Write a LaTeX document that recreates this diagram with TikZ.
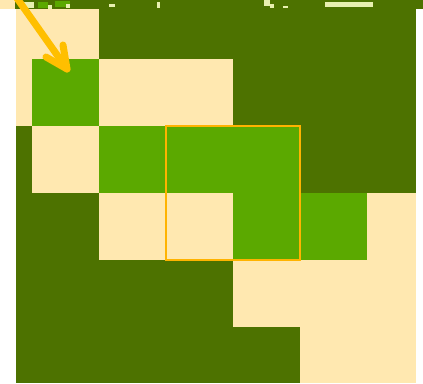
\documentclass[tikz,border=0pt]{standalone}
\definecolor{darkg}{HTML}{4D7200}
\definecolor{brightg}{HTML}{5BA900}
\definecolor{cream}{HTML}{FFE8B0}
\definecolor{framec}{HTML}{FFB300}
\definecolor{arrowc}{HTML}{FFBF00}
\definecolor{speck}{HTML}{E8F0B0}
\tikzset{
  cellD/.style={fill=darkg},
  cellB/.style={fill=brightg},
  cellC/.style={fill=cream},
  specks/.style={fill=speck},
  frame/.style={draw=framec, line width=2.5pt},
  pointer/.style={draw=arrowc, line width=7pt, line cap=round, line join=round}
}
\begin{document}
\begin{tikzpicture}[x=1pt,y=-1pt]
\useasboundingbox (0,0) rectangle (423,383);
\clip (0,0) rectangle (423,383);
% base dark area
\fill[cellD] (16,9) rectangle (416,383);
% cream cells
\fill[cellC] (16,9) rectangle (99,59);
\fill[cellC] (16,59) rectangle (32,126);
\fill[cellC] (99,59) rectangle (233,126);
\fill[cellC] (32,126) rectangle (99,193);
\fill[cellC] (99,193) rectangle (233,260);
\fill[cellC] (367,193) rectangle (416,260);
\fill[cellC] (233,260) rectangle (416,327);
\fill[cellC] (300,327) rectangle (416,383);
% bright green cells
\fill[cellB] (32,59) rectangle (99,126);
\fill[cellB] (99,126) rectangle (300,193);
\fill[cellB] (233,193) rectangle (367,260);
% top strip
\fill[cellD] (0,0) rectangle (423,9);
\fill[cellC] (0,0) rectangle (15,9);
\fill[specks] (24,2) rectangle (34,8);
\fill[brightg] (38,2) rectangle (48,8);
\fill[specks] (48,5) rectangle (52,9);
\fill[brightg] (55,1) rectangle (70,7);
\fill[specks] (66,4) rectangle (70,8);
\fill[specks] (109,4) rectangle (115,7);
\fill[specks] (157,2) rectangle (160,8);
\fill[specks] (264,0) rectangle (270,6);
\fill[specks] (270,4) rectangle (274,8);
\fill[specks] (283,6) rectangle (288,8);
\fill[specks] (325,2) rectangle (373,7);
% orange frame
\draw[frame] (166,126) rectangle (300,260);
% arrow
\coordinate (arrowstart) at (14,-6);
\coordinate (arrowtip) at (67,69);
\coordinate (barbL) at (46,57);
\coordinate (barbR) at (63,45);
\draw[pointer] (arrowstart) -- (arrowtip);
\draw[pointer] (barbL) -- (arrowtip) -- (barbR);
\end{tikzpicture}
\end{document}
